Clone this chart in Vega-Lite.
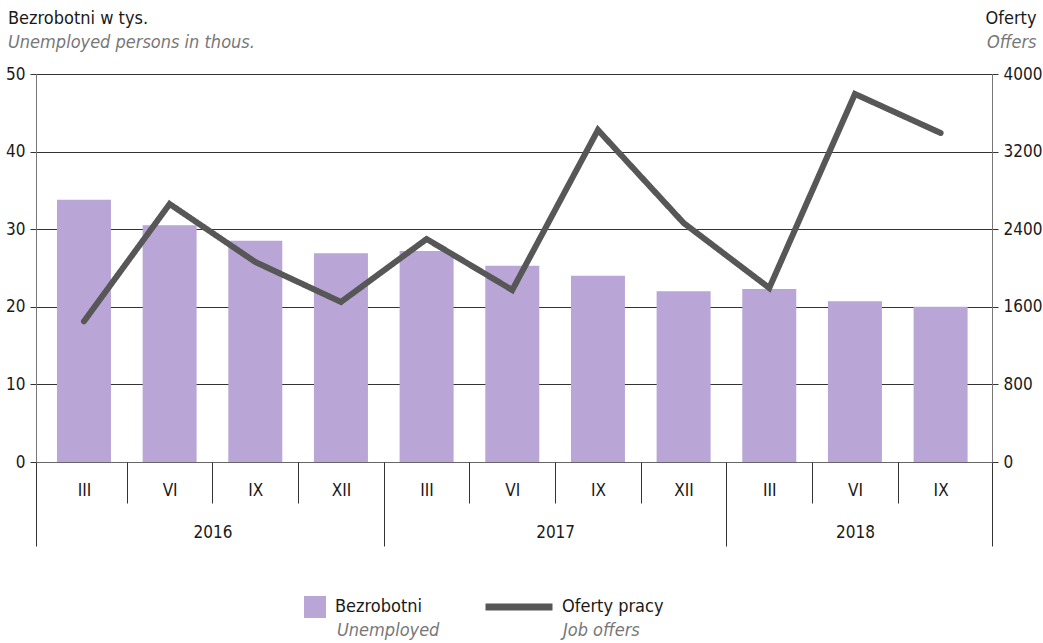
{
  "$schema": "https://vega.github.io/schema/vega-lite/v6.json",
  "autosize": "none",
  "width": 956,
  "height": 388,
  "padding": {"left": 36, "top": 74, "right": 51, "bottom": 181},
  "background": "white",
  "config": {
    "font": "DejaVu Sans Condensed, sans-serif",
    "view": {"stroke": null},
    "scale": {"continuousPadding": 0},
    "axis": {"labelFontSize": 17, "labelColor": "#1a1a1a", "tickColor": "#333333", "domainColor": "#666666", "titleFontWeight": "normal", "titleColor": "#1a1a1a"},
    "legend": {"padding": 0, "labelFontSize": 18, "labelColor": "#1a1a1a"}
  },
  "title": {
    "text": "Bezrobotni w tys.",
    "subtitle": "Unemployed persons in thous.",
    "anchor": "start",
    "frame": "group",
    "dx": -28,
    "dy": 53,
    "fontSize": 18,
    "fontWeight": "normal",
    "color": "#1a1a1a",
    "subtitleFontSize": 18,
    "subtitleFontStyle": "italic",
    "subtitleColor": "#777777",
    "subtitlePadding": 6,
    "offset": 10
  },
  "data": {
    "values": [
      {"idx": 0, "year": "2016", "month": "III", "unemployed": 33.8, "offers": 1450},
      {"idx": 1, "year": "2016", "month": "VI", "unemployed": 30.5, "offers": 2660},
      {"idx": 2, "year": "2016", "month": "IX", "unemployed": 28.5, "offers": 2062},
      {"idx": 3, "year": "2016", "month": "XII", "unemployed": 26.9, "offers": 1650},
      {"idx": 4, "year": "2017", "month": "III", "unemployed": 27.2, "offers": 2299},
      {"idx": 5, "year": "2017", "month": "VI", "unemployed": 25.3, "offers": 1773},
      {"idx": 6, "year": "2017", "month": "IX", "unemployed": 24.0, "offers": 3423},
      {"idx": 7, "year": "2017", "month": "XII", "unemployed": 22.0, "offers": 2464},
      {"idx": 8, "year": "2018", "month": "III", "unemployed": 22.3, "offers": 1794},
      {"idx": 9, "year": "2018", "month": "VI", "unemployed": 20.7, "offers": 3794},
      {"idx": 10, "year": "2018", "month": "IX", "unemployed": 20.0, "offers": 3392}
    ]
  },
  "layer": [
    {
      "mark": {"type": "bar", "size": 54, "orient": "vertical"},
      "encoding": {
        "x": {
          "field": "idx", "type": "quantitative",
          "scale": {"domain": [-0.56, 10.6], "nice": false, "zero": false, "padding": 0},
          "axis": {
            "orient": "bottom",
            "values": [0, 1, 2, 3, 4, 5, 6, 7, 8, 9, 10],
            "labelExpr": "['III','VI','IX','XII'][datum.value % 4]",
            "ticks": false, "grid": false, "domain": true, "domainColor": "#666666",
            "labelPadding": 20, "title": null
          }
        },
        "y": {
          "field": "unemployed", "type": "quantitative",
          "scale": {"domain": [0, 50], "nice": false},
          "axis": {
            "orient": "left", "values": [0, 10, 20, 30, 40, 50],
            "grid": true, "gridColor": "#333333", "tickSize": 6, "labelPadding": 5,
            "title": null, "domainColor": "#777777"
          }
        },
        "fill": {
          "datum": "Bezrobotni",
          "scale": {"range": ["#b9a6d6"]},
          "legend": {"orient": "none", "legendX": 268, "legendY": 522, "symbolType": "square", "symbolSize": 484, "symbolStrokeWidth": 0, "labelOffset": 9, "title": null}
        }
      }
    },
    {
      "mark": {"type": "line", "strokeWidth": 6, "strokeCap": "round"},
      "encoding": {
        "x": {
          "field": "idx", "type": "quantitative",
          "scale": {"domain": [-0.56, 10.6], "nice": false, "zero": false, "padding": 0},
          "axis": {
            "orient": "bottom",
            "values": [-0.56, 0.5, 1.5, 2.5, 3.5, 4.5, 5.5, 6.5, 7.5, 8.5, 9.5, 10.6],
            "labels": false, "domain": false, "grid": false, "title": null,
            "tickColor": "#333333",
            "tickSize": {"condition": {"test": "datum.value < 0 || datum.value == 3.5 || datum.value == 7.5 || datum.value > 10", "value": 84}, "value": 41}
          }
        },
        "y": {
          "field": "offers", "type": "quantitative",
          "scale": {"domain": [0, 4000], "nice": false},
          "axis": {
            "orient": "right", "values": [0, 800, 1600, 2400, 3200, 4000], "format": "d",
            "tickSize": 6, "labelPadding": 5, "grid": false, "domainColor": "#777777",
            "title": "Oferty", "titleAngle": 0, "titleAlign": "right", "titleBaseline": "middle",
            "titleX": 44, "titleY": -56, "titleFontSize": 18
          }
        },
        "stroke": {
          "datum": "Oferty pracy",
          "scale": {"range": ["#575757"]},
          "legend": {"orient": "none", "legendX": 446, "legendY": 496, "symbolType": "stroke", "symbolSize": 4489, "symbolStrokeWidth": 7, "labelOffset": 6, "title": null}
        },
        "strokeDash": {
          "datum": "Job offers",
          "scale": {"range": [[1, 0]]},
          "legend": {"orient": "none", "legendX": 446, "legendY": 522, "symbolType": "stroke", "symbolSize": 4489, "symbolOpacity": 0, "labelOffset": 12, "labelFontStyle": "italic", "labelColor": "#777777", "title": null}
        }
      }
    },
    {
      "mark": {"type": "point", "opacity": 0},
      "encoding": {
        "x": {
          "field": "idx", "type": "quantitative",
          "scale": {"domain": [-0.56, 10.6], "nice": false, "zero": false, "padding": 0},
          "axis": {
            "orient": "bottom",
            "values": [1.5, 5.5, 9],
            "labelExpr": "datum.value < 4 ? '2016' : (datum.value < 8 ? '2017' : '2018')",
            "ticks": false, "domain": false, "grid": false, "labelPadding": 62, "title": null
          }
        },
        "y": {
          "field": "offers", "type": "quantitative",
          "scale": {"domain": [0, 4000], "nice": false},
          "axis": {
            "orient": "right", "labels": false, "ticks": false, "domain": false, "grid": false,
            "title": "Offers", "titleAngle": 0, "titleAlign": "right", "titleBaseline": "middle",
            "titleX": 44, "titleY": -32, "titleFontSize": 18, "titleFontStyle": "italic", "titleColor": "#777777"
          }
        },
        "shape": {
          "datum": "Unemployed",
          "legend": {"orient": "none", "legendX": 268, "legendY": 545, "symbolSize": 484, "symbolOpacity": 0, "labelOffset": 9, "labelFontStyle": "italic", "labelColor": "#777777", "title": null}
        }
      }
    }
  ],
  "resolve": {
    "scale": {"y": "independent"},
    "axis": {"x": "independent", "y": "independent"}
  }
}
